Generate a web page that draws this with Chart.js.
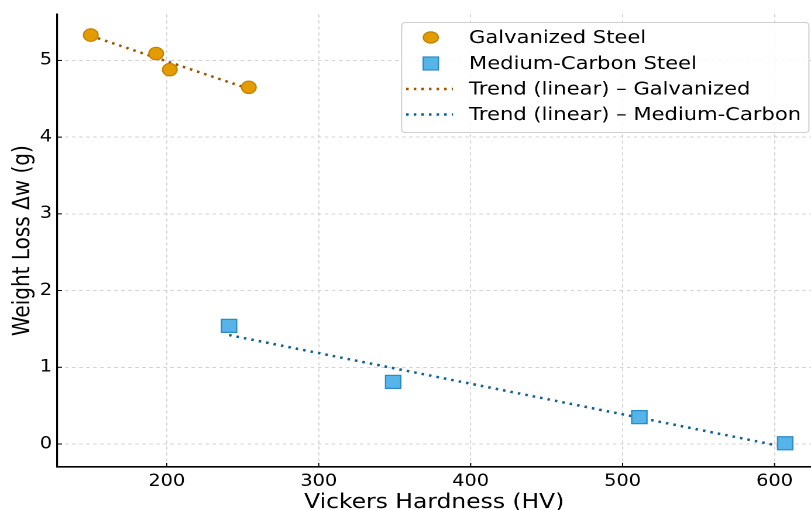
<!DOCTYPE html>
<html>
<head>
<meta charset="utf-8">
<script src="https://cdn.jsdelivr.net/npm/chart.js@4.4.1/dist/chart.umd.min.js"></script>
<style>
  body { margin: 0; background: #fff; overflow: hidden; }
  /* the reference is slightly stretched horizontally, so draw narrower and stretch */
  #wrap { width: 693px; height: 510px; transform: scaleX(1.1703); transform-origin: 0 0; }
</style>
</head>
<body>
<div id="wrap"><canvas id="chart"></canvas></div>
<script>
// values
const galvHardness = [150, 193, 202, 254];
const galvLoss = [5.33, 5.09, 4.88, 4.65];
const mcHardness = [241, 349, 511, 607];
const mcLoss = [1.54, 0.81, 0.35, 0.01];

// trend line end points (as drawn in the reference)
const galvTrendX = [150, 254];
const galvTrendY = [5.32, 4.63];
const mcTrendX = [241, 607];
const mcTrendY = [1.42, -0.04];

const xTicks = [200, 300, 400, 500, 600];
const yTicks = [0, 1, 2, 3, 4, 5];

const legendLabels = ['Galvanized Steel', 'Medium-Carbon Steel', 'Trend (linear) \u2013 Galvanized', 'Trend (linear) \u2013 Medium-Carbon'];

const font = 'DejaVu Sans';
const toPts = (xs, ys) => xs.map((x, i) => ({ x: x, y: ys[i] }));

// small inward tick marks like the original
const innerTicks = {
  id: 'innerTicks',
  afterDraw(chart) {
    const { ctx, chartArea, scales } = chart;
    ctx.save();
    ctx.strokeStyle = '#000';
    ctx.lineWidth = 1;
    scales.x.ticks.forEach(t => {
      const px = scales.x.getPixelForValue(t.value);
      ctx.beginPath();
      ctx.moveTo(px, chartArea.bottom);
      ctx.lineTo(px, chartArea.bottom - 4);
      ctx.stroke();
    });
    scales.y.ticks.forEach(t => {
      const py = scales.y.getPixelForValue(t.value);
      ctx.beginPath();
      ctx.moveTo(chartArea.left, py);
      ctx.lineTo(chartArea.left + 4, py);
      ctx.stroke();
    });
    ctx.restore();
  }
};

// legend box in the top right corner
const boxLegend = {
  id: 'boxLegend',
  afterDraw(chart) {
    const ctx = chart.ctx;
    const ds = chart.data.datasets;
    const bx = 343.2, by = 22.5, bw = 348, bh = 110;
    ctx.save();
    ctx.fillStyle = 'rgba(255,255,255,0.85)';
    ctx.strokeStyle = '#cfcfcf';
    ctx.lineWidth = 1;
    ctx.beginPath();
    ctx.roundRect(bx, by, bw, bh, 3);
    ctx.fill();
    ctx.stroke();

    const rows = [37.5, 63.5, 89, 114.5];
    const mx = 368.1;
    ctx.font = '18px "' + font + '"';
    ctx.textBaseline = 'middle';
    legendLabels.forEach((label, i) => {
      const y = rows[i];
      const d = ds[i];
      if (i === 0) {
        ctx.beginPath();
        ctx.ellipse(mx, y, 6.4, 5.6, 0, 0, Math.PI * 2);
        ctx.fillStyle = d.backgroundColor;
        ctx.fill();
        ctx.strokeStyle = d.borderColor;
        ctx.lineWidth = 1.2;
        ctx.stroke();
      } else if (i === 1) {
        ctx.fillStyle = d.backgroundColor;
        ctx.fillRect(mx - 6.5, y - 6.5, 13, 13);
        ctx.strokeStyle = d.borderColor;
        ctx.lineWidth = 1.2;
        ctx.strokeRect(mx - 6.5, y - 6.5, 13, 13);
      } else {
        ctx.strokeStyle = d.borderColor;
        ctx.lineWidth = d.borderWidth;
        ctx.setLineDash(d.borderDash);
        ctx.beginPath();
        ctx.moveTo(347, y);
        ctx.lineTo(387, y);
        ctx.stroke();
        ctx.setLineDash([]);
      }
      ctx.fillStyle = '#000';
      ctx.fillText(label, 400.8, y + 1);
    });
    ctx.restore();
  }
};

new Chart(document.getElementById('chart'), {
  type: 'scatter',
  data: {
    datasets: [
      {
        label: legendLabels[0],
        data: toPts(galvHardness, galvLoss),
        pointStyle: 'circle',
        pointRadius: 6.2,
        backgroundColor: '#E39B00',
        borderColor: '#C08300',
        borderWidth: 1.2
      },
      {
        label: legendLabels[1],
        data: toPts(mcHardness, mcLoss),
        pointStyle: 'rect',
        pointRadius: 9.2,
        backgroundColor: '#56B4E9',
        borderColor: '#2B8CC4',
        borderWidth: 1.2
      },
      {
        label: legendLabels[2],
        data: toPts(galvTrendX, galvTrendY),
        showLine: true,
        pointRadius: 0,
        borderColor: '#9A5600',
        borderWidth: 2.5,
        borderDash: [2.2, 4.3]
      },
      {
        label: legendLabels[3],
        data: toPts(mcTrendX, mcTrendY),
        showLine: true,
        pointRadius: 0,
        borderColor: '#11618F',
        borderWidth: 2.5,
        borderDash: [2.2, 4.3]
      }
    ]
  },
  options: {
    responsive: true,
    maintainAspectRatio: false,
    animation: false,
    devicePixelRatio: 2,
    layout: { autoPadding: false, padding: { top: 13, right: 0, left: 0, bottom: 0 } },
    plugins: {
      legend: { display: false },
      tooltip: { enabled: false }
    },
    scales: {
      x: {
        type: 'linear',
        min: 128,
        max: 624,
        afterBuildTicks: s => { s.ticks = xTicks.map(v => ({ value: v })); },
        afterFit: s => { s.height = 43; },
        grid: { color: '#c8c8c8', lineWidth: 0.8, drawTicks: false },
        border: { display: true, color: '#000', width: 1.6, dash: [3, 3] },
        ticks: { color: '#000', padding: 5, font: { family: font, size: 16.5 } },
        title: {
          display: true,
          text: 'Vickers Hardness (HV)',
          color: '#000',
          padding: { top: 0, bottom: -5 },
          font: { family: font, size: 20 }
        }
      },
      y: {
        type: 'linear',
        min: -0.3,
        max: 5.6,
        afterBuildTicks: s => { s.ticks = yTicks.map(v => ({ value: v })); },
        afterFit: s => { s.width = 49; },
        grid: { color: '#c8c8c8', lineWidth: 0.8, drawTicks: false },
        border: { display: true, color: '#000', width: 1.6, dash: [3, 3] },
        ticks: { color: '#000', padding: 4.5, font: { family: font, size: 16.5 } },
        title: {
          display: true,
          text: 'Weight Loss \u0394w (g)',
          color: '#000',
          padding: { top: 8, bottom: 0 },
          font: { family: font, size: 20 }
        }
      }
    }
  },
  plugins: [innerTicks, boxLegend]
});
</script>
</body>
</html>
